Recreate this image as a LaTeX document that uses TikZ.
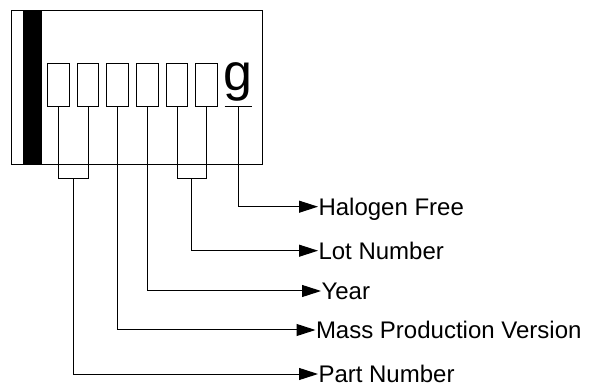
\documentclass[tikz,border=0pt]{standalone}
\usepackage{fontspec}
\setmainfont{Liberation Sans}
\usetikzlibrary{arrows.meta}
\begin{document}
\begin{tikzpicture}[x=1pt,y=-1pt,line width=1pt,
  digit/.style={draw, minimum width=21.5pt, minimum height=43pt, inner sep=0pt},
  callout/.style={font=\fontsize{24}{24}\selectfont, anchor=west, inner sep=0pt,
    text height=17.2pt, text depth=0pt},
  lead/.style={-{Triangle[length=19pt,width=12pt]}}]
\useasboundingbox (0,0) rectangle (589,387);
% marking plate with its index stripe
\node[draw, anchor=north west, minimum width=250.4pt, minimum height=153.7pt, inner sep=0pt] (plate) at (11.3,10) {};
\node[fill=black, anchor=north west, minimum width=18.3pt, minimum height=153.7pt, inner sep=0pt] (stripe) at (22.7,10) {};
% code character cells
\node[digit] (b1) at (58.5,85.5) {};
\node[digit] (b2) at (88,85.5) {};
\node[digit] (b3) at (117.5,85.5) {};
\node[digit] (b4) at (147.5,85.5) {};
\node[digit] (b5) at (177,85.5) {};
\node[digit] (b6) at (206.5,85.5) {};
\node[font=\fontsize{52}{52}\selectfont, anchor=base, inner sep=0pt] (g) at (237.5,91) {g};
\coordinate (gl) at (224.5,107);
\coordinate (gr) at (251.5,107);
\coordinate (gm) at (238.5,107);
\draw (gl) -- (gr);
% brackets joining paired cells
\coordinate (m1) at (73.2,179);
\coordinate (m2) at (191.8,179);
\draw (b1.south) -- (b1.south |- m1) -- (b2.south |- m1) -- (b2.south);
\draw (b5.south) -- (b5.south |- m2) -- (b6.south |- m2) -- (b6.south);
% field labels
\node[callout] (hf) at (318,206.7) {Halogen Free};
\node[callout] (ln) at (318,250.7) {Lot Number};
\node[callout] (yr) at (321,291) {Year};
\node[callout] (mp) at (315.5,330) {Mass Production Version};
\node[callout] (pn) at (318,374) {Part Number};
% leader lines
\draw[lead] (gm) |- (hf.west);
\draw[lead] (m2) |- (ln.west);
\draw[lead] (b4.south) |- (yr.west);
\draw[lead] (b3.south) |- (mp.west);
\draw[lead] (m1) |- (pn.west);
\end{tikzpicture}
\end{document}
